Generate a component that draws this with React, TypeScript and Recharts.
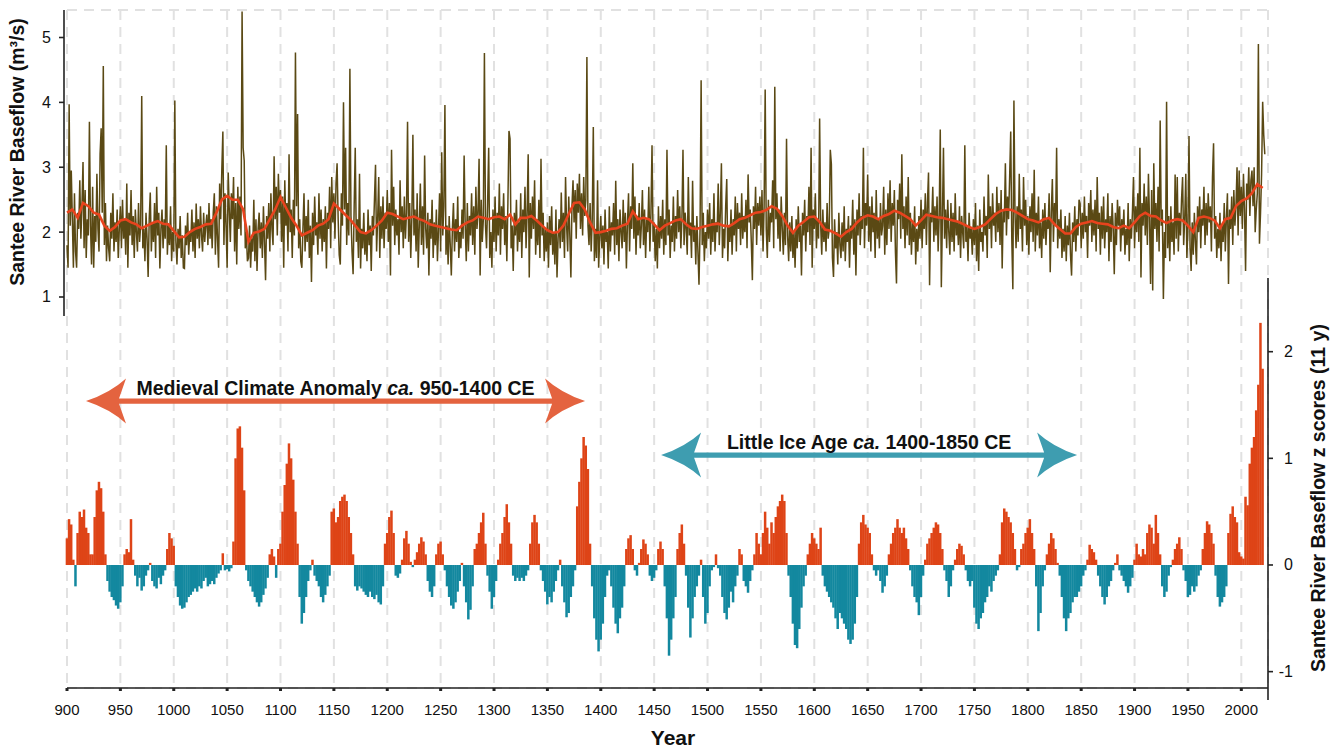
import React from "react";
import {
  ComposedChart,
  LineChart,
  Bar,
  Cell,
  Line,
  XAxis,
  YAxis,
  CartesianGrid,
  ReferenceArea,
} from "recharts";

// annual baseflow (m3/s), one array per century, first year = 900, 1000, ...
const flow900 = [
  1.8, 1.45, 3.97, 2.1, 2.95, 2.2, 1.45, 2.6, 1.7, 1.45,
  2.3, 2.05, 2.8, 1.9, 2.4, 3.08, 1.75, 2.65, 1.6, 2.2,
  1.95, 3.7, 2.1, 1.5, 2.7, 1.45, 2.25, 1.85, 2.9, 2.05,
  1.7, 3.2, 3.6, 2.3, 4.56, 1.8, 2.45, 1.55, 2.1, 1.75,
  1.55, 2.3, 1.9, 2.6, 1.7, 2.15, 1.85, 2.35, 1.6, 2.05,
  2.4, 1.75, 2.5, 1.9, 2.2, 1.65, 2.75, 1.45, 2.3, 1.95,
  2.65, 1.8, 2.25, 1.6, 2.35, 2.0, 1.7, 2.45, 1.85, 2.1,
  4.1, 1.75, 2.05, 1.55, 2.3, 1.9, 1.31, 2.2, 2.61, 1.7,
  2.15, 1.85, 2.45, 1.6, 2.7, 1.95, 2.3, 1.44, 2.05, 2.35,
  1.75, 2.2, 1.9, 3.34, 1.65, 2.1, 1.8, 2.4, 1.55, 2.0,
];
const flow1000 = [
  1.7, 4.03, 1.85, 1.5, 2.05, 1.75, 2.25, 1.6, 1.95, 1.45,
  1.44, 2.1, 1.8, 2.3, 1.65, 2.0, 1.85, 2.35, 1.7, 2.15,
  1.6, 2.44, 1.9, 2.2, 1.75, 2.4, 1.95, 1.7, 2.3, 1.85,
  2.1, 2.27, 1.8, 2.45, 1.9, 2.2, 1.75, 2.3, 2.6, 1.65,
  2.4, 1.9, 1.45, 2.75, 2.2, 2.95, 3.55, 1.8, 2.6, 2.1,
  1.45, 2.92, 2.35, 1.85, 2.6, 2.2, 2.85, 1.7, 2.45, 1.5,
  2.7, 2.05, 2.55, 1.95, 5.4, 3.3, 3.1, 1.75, 2.0, 1.55,
  1.6, 2.1, 1.45, 1.9, 1.7, 2.5, 1.55, 2.2, 1.4, 2.05,
  2.3, 1.75, 2.15, 1.6, 2.4, 1.85, 1.26, 2.25, 1.9, 2.45,
  1.7, 2.6, 2.05, 1.8, 3.17, 2.2, 2.7, 1.95, 2.9, 2.3,
];
const flow1100 = [
  2.65, 1.85, 2.55, 1.45, 2.8, 2.1, 2.45, 1.7, 3.2, 2.0,
  2.35, 1.6, 2.5, 1.95, 4.77, 2.4, 3.82, 1.75, 2.2, 1.55,
  1.45, 2.05, 2.6, 1.7, 2.25, 1.85, 2.5, 1.6, 2.1, 1.23,
  2.3, 1.8, 2.55, 1.95, 2.15, 1.65, 2.6, 1.9, 2.35, 1.7,
  2.2, 1.85, 2.4, 1.44, 2.3, 2.05, 2.7, 1.75, 2.85, 2.15,
  2.6, 1.9, 2.75, 3.06, 2.2, 1.65, 1.5, 2.6, 2.1, 4.0,
  2.35, 3.3, 1.8, 2.45, 1.95, 4.52, 2.25, 1.7, 1.35, 2.4,
  3.3, 1.85, 2.2, 1.6, 2.9, 1.44, 2.05, 1.75, 2.3, 1.65,
  2.0, 1.55, 2.35, 1.8, 2.1, 1.4, 2.25, 1.95, 2.5, 3.04,
  1.7, 2.2, 2.85, 1.6, 2.4, 1.9, 2.55, 1.75, 2.3, 2.05,
];
const flow1200 = [
  2.65, 1.85, 2.45, 1.33, 3.27, 2.1, 2.7, 1.8, 2.35, 1.95,
  2.2, 1.65, 2.8, 2.0, 2.4, 1.75, 2.55, 1.9, 2.3, 3.7,
  1.85, 2.45, 1.6, 2.2, 3.5, 1.95, 2.35, 1.7, 2.6, 1.45,
  2.1, 2.75, 1.8, 2.4, 1.65, 3.18, 2.05, 1.75, 2.3, 1.33,
  2.2, 1.9, 2.5, 1.6, 2.15, 1.8, 2.35, 1.55, 2.05, 2.6,
  1.7, 3.23, 1.95, 2.4, 3.96, 1.65, 2.1, 1.5, 2.25, 1.8,
  1.33, 2.05, 2.45, 1.7, 2.2, 1.85, 2.55, 1.6, 2.0, 1.75,
  2.35, 1.9, 3.18, 2.1, 1.55, 2.45, 1.7, 2.25, 1.95, 2.6,
  1.8, 2.4, 1.65, 2.7, 2.05, 2.3, 3.13, 1.33, 2.5, 1.85,
  2.2, 4.76, 2.1, 1.75, 2.45, 3.3, 1.6, 2.0, 1.45, 2.35,
];
const flow1300 = [
  1.85, 2.55, 1.7, 2.3, 1.95, 2.75, 1.65, 2.4, 2.05, 2.6,
  1.8, 2.25, 1.55, 2.45, 3.56, 3.44, 1.75, 2.1, 1.4, 2.3,
  1.95, 2.5, 1.7, 2.15, 1.85, 2.6, 1.6, 2.35, 2.0, 2.7,
  1.75, 2.3, 3.2, 1.3, 2.45, 1.9, 2.55, 2.05, 2.8, 1.65,
  2.2, 1.8, 2.5, 1.6, 3.13, 1.95, 2.3, 1.55, 2.05, 1.7,
  2.15, 1.45, 2.25, 1.8, 2.4, 1.65, 2.0, 1.5, 2.35, 1.3,
  1.9, 2.2, 1.75, 2.61, 1.85, 2.3, 1.6, 2.85, 2.1, 1.7,
  2.55, 1.95, 1.3, 2.4, 2.8, 2.15, 2.65, 1.9, 2.75, 2.3,
  2.9, 2.05, 2.6, 1.95, 2.85, 2.25, 2.5, 4.7, 2.1, 1.8,
  2.45, 1.7, 2.2, 3.62, 1.55, 2.05, 1.6, 2.8, 1.45, 1.9,
];
const flow1400 = [
  2.25, 1.75, 2.1, 1.5, 2.35, 1.85, 2.0, 1.44, 2.4, 1.7,
  2.15, 1.95, 2.45, 1.65, 2.79, 1.8, 2.2, 1.55, 2.35, 2.0,
  1.75, 2.5, 1.85, 2.3, 1.44, 2.15, 2.6, 1.7, 2.4, 2.05,
  3.06, 1.9, 2.55, 1.65, 2.25, 1.95, 2.45, 1.75, 2.1, 2.65,
  1.8, 2.35, 1.6, 2.2, 2.0, 2.7, 1.7, 2.3, 3.34, 1.85,
  2.15, 1.55, 2.05, 1.44, 2.4, 1.75, 2.25, 1.9, 2.5, 1.65,
  2.2, 1.8, 3.27, 1.95, 2.35, 1.6, 2.1, 1.85, 2.55, 1.7,
  2.25, 1.9, 2.65, 2.0, 2.4, 1.75, 2.2, 3.27, 1.8, 2.3,
  2.05, 1.65, 2.85, 1.95, 2.15, 1.6, 2.79, 1.85, 2.1, 1.5,
  2.25, 1.7, 1.19, 2.05, 4.34, 1.8, 2.3, 1.55, 2.0, 1.75,
];
const flow1500 = [
  2.35, 1.9, 2.45, 1.65, 2.2, 1.85, 2.6, 1.7, 2.15, 2.0,
  2.75, 1.8, 2.3, 3.06, 1.6, 2.05, 1.75, 2.4, 2.82, 1.55,
  2.1, 1.85, 2.35, 1.65, 2.2, 1.95, 2.55, 1.7, 2.45, 2.05,
  2.3, 1.8, 2.6, 1.9, 2.25, 2.0, 2.5, 1.75, 2.89, 2.15,
  2.35, 1.85, 1.26, 2.4, 2.05, 2.7, 1.8, 2.45, 2.1, 2.55,
  1.95, 2.65, 1.7, 2.4, 4.2, 2.05, 1.6, 2.5, 1.85, 2.3,
  2.15, 2.8, 1.75, 4.24, 2.2, 2.6, 1.9, 2.35, 1.7, 2.55,
  2.05, 1.65, 2.3, 1.8, 3.44, 1.95, 1.55, 2.15, 1.7, 2.25,
  1.6, 2.0, 1.45, 2.2, 1.75, 2.4, 1.85, 2.1, 1.33, 2.3,
  1.95, 2.5, 1.7, 2.25, 2.0, 2.7, 1.8, 3.3, 1.45, 2.35,
];
const flow1600 = [
  2.05, 2.6, 1.75, 2.2, 1.9, 3.75, 2.1, 1.65, 2.35, 1.85,
  2.15, 1.7, 2.45, 1.9, 2.05, 3.27, 3.05, 1.6, 1.31, 2.2,
  1.75, 2.0, 1.5, 2.3, 1.8, 1.6, 2.15, 1.7, 2.4, 1.55,
  2.05, 1.85, 2.25, 1.45, 2.1, 1.9, 2.5, 1.65, 2.2, 1.33,
  2.35, 1.95, 2.6, 1.8, 2.25, 2.05, 3.3, 1.75, 2.45, 2.1,
  2.89, 1.85, 2.4, 1.7, 2.55, 2.0, 2.3, 1.6, 2.65, 1.9,
  2.2, 1.75, 2.45, 1.95, 2.1, 2.7, 1.65, 2.35, 1.8, 2.6,
  2.05, 2.8, 1.85, 2.45, 2.1, 2.65, 1.7, 1.21, 2.5, 2.2,
  2.75, 1.9, 3.2, 2.05, 2.4, 1.75, 2.55, 1.95, 2.85, 1.8,
  2.3, 1.65, 2.15, 1.85, 2.4, 1.5, 2.05, 1.7, 2.25, 1.9,
];
const flow1700 = [
  2.5, 1.75, 2.35, 2.05, 2.6, 1.8, 2.45, 2.92, 1.18, 2.3,
  2.15, 2.7, 1.85, 2.4, 1.95, 2.55, 1.7, 2.25, 3.58, 1.15,
  2.2, 3.3, 1.9, 2.35, 1.75, 2.5, 2.0, 1.65, 2.45, 1.85,
  2.3, 1.7, 2.6, 1.95, 2.15, 1.8, 2.4, 1.6, 2.25, 2.0,
  1.75, 3.34, 1.85, 2.1, 1.55, 2.3, 1.9, 2.05, 1.65, 2.2,
  1.8, 2.45, 1.55, 2.1, 1.4, 2.35, 1.85, 2.0, 1.7, 2.55,
  1.95, 2.25, 1.6, 2.89, 2.05, 2.4, 1.75, 2.6, 2.1, 2.3,
  1.85, 2.7, 2.0, 2.45, 1.8, 2.65, 1.44, 2.35, 2.15, 3.06,
  1.95, 2.55, 2.2, 2.85, 3.55, 1.9, 1.12, 4.03, 2.3, 1.75,
  2.4, 1.85, 2.9, 2.05, 2.35, 1.7, 2.85, 2.1, 2.5, 1.8,
];
const flow1800 = [
  2.25, 1.65, 2.4, 2.0, 2.6, 1.85, 2.96, 1.7, 2.3, 1.95,
  2.55, 1.75, 2.15, 1.6, 2.35, 1.9, 2.45, 1.8, 2.2, 2.05,
  2.6, 1.38, 2.3, 2.82, 1.85, 2.45, 2.1, 3.3, 1.75, 2.2,
  1.9, 2.35, 1.6, 2.05, 1.7, 2.25, 1.55, 2.1, 1.8, 2.3,
  1.65, 1.33, 2.15, 1.85, 2.4, 1.7, 2.2, 1.95, 2.5, 2.44,
  1.75, 2.3, 1.9, 2.55, 2.0, 2.25, 1.6, 2.45, 2.1, 2.65,
  1.85, 2.35, 1.95, 2.5, 1.7, 2.85, 2.05, 2.3, 1.65, 2.4,
  1.9, 2.55, 1.75, 2.2, 2.0, 2.6, 1.55, 2.25, 1.85, 2.45,
  2.05, 1.35, 2.3, 1.8, 2.5, 2.1, 2.4, 1.7, 2.2, 1.95,
  2.35, 1.65, 2.05, 1.8, 2.45, 1.55, 2.2, 1.9, 2.3, 2.85,
];
const flow1900 = [
  1.75, 2.4, 2.0, 2.6, 1.85, 3.3, 1.3, 2.45, 2.1, 2.75,
  1.95, 2.55, 1.8, 2.9, 2.2, 1.2, 2.65, 1.1, 3.06, 2.05,
  2.45, 1.85, 2.7, 1.7, 3.72, 2.1, 2.35, 0.97, 2.0, 1.6,
  4.01, 1.75, 2.25, 1.55, 2.4, 1.85, 2.15, 1.65, 2.89, 1.9,
  2.85, 1.7, 2.3, 1.95, 2.5, 2.85, 1.8, 2.2, 2.9, 1.6,
  2.05, 3.48, 1.75, 1.4, 2.15, 1.65, 2.3, 1.85, 1.5, 2.4,
  2.0, 2.55, 1.75, 2.35, 2.1, 2.7, 1.8, 2.45, 1.95, 2.6,
  2.15, 2.4, 1.7, 2.85, 3.37, 1.9, 2.25, 1.6, 2.05, 1.75,
  2.3, 1.55, 2.1, 1.85, 2.45, 1.7, 2.2, 2.6, 1.2, 2.35,
  2.05, 2.55, 1.8, 2.65, 2.1, 2.4, 3.0, 1.95, 2.95, 2.25,
];
const flow2000 = [
  2.7, 2.05, 2.9, 2.35, 1.4, 2.75, 2.5, 3.0, 2.25, 2.8,
  2.95, 2.4, 3.0, 2.0, 2.35, 2.6, 4.9, 1.82, 2.3, 2.9,
  4.01, 3.5, 3.2,
];

// 11-year smoothed baseflow, every 5 years from 900
const smooth900 = [2.3, 2.35, 2.22, 2.45, 2.4, 2.3, 2.27, 2.1, 2.02, 2.08, 2.18, 2.2, 2.15, 2.12, 2.06, 2.1, 2.14, 2.17, 2.13, 2.12];
const smooth1000 = [2.02, 1.92, 1.93, 2.0, 2.05, 2.08, 2.12, 2.13, 2.3, 2.5, 2.56, 2.5, 2.5, 2.35, 1.85, 1.99, 2.01, 2.05, 2.2, 2.35];
const smooth1100 = [2.54, 2.38, 2.22, 2.1, 1.95, 1.99, 2.03, 2.1, 2.13, 2.2, 2.44, 2.36, 2.28, 2.2, 2.1, 2.0, 1.98, 2.03, 2.1, 2.18];
const smooth1200 = [2.3, 2.28, 2.24, 2.2, 2.22, 2.24, 2.2, 2.17, 2.12, 2.1, 2.08, 2.06, 2.04, 2.03, 2.1, 2.15, 2.18, 2.24, 2.22, 2.2];
const smooth1300 = [2.23, 2.24, 2.2, 2.27, 2.12, 2.22, 2.22, 2.25, 2.18, 2.1, 2.03, 1.99, 2.0, 2.1, 2.28, 2.45, 2.46, 2.35, 2.15, 1.99];
const smooth1400 = [2.0, 2.02, 2.05, 2.06, 2.1, 2.13, 2.32, 2.2, 2.22, 2.2, 2.12, 2.03, 2.1, 2.14, 2.18, 2.2, 2.12, 2.06, 2.05, 2.08];
const smooth1500 = [2.1, 2.12, 2.13, 2.1, 2.09, 2.14, 2.2, 2.22, 2.26, 2.3, 2.31, 2.34, 2.4, 2.36, 2.25, 2.1, 1.99, 2.1, 2.16, 2.23];
const smooth1600 = [2.24, 2.16, 2.04, 2.02, 1.98, 1.93, 2.0, 2.05, 2.15, 2.22, 2.26, 2.24, 2.2, 2.25, 2.28, 2.33, 2.3, 2.25, 2.2, 2.1];
const smooth1700 = [2.18, 2.27, 2.25, 2.23, 2.22, 2.2, 2.18, 2.16, 2.12, 2.08, 2.05, 2.08, 2.12, 2.2, 2.28, 2.33, 2.35, 2.34, 2.3, 2.25];
const smooth1800 = [2.2, 2.18, 2.15, 2.2, 2.22, 2.12, 2.05, 1.98, 1.98, 2.08, 2.13, 2.15, 2.17, 2.14, 2.13, 2.12, 2.08, 2.06, 2.1, 2.06];
const smooth1900 = [2.15, 2.25, 2.3, 2.25, 2.24, 2.18, 2.14, 2.18, 2.2, 2.18, 2.1, 2.0, 2.22, 2.24, 2.22, 2.18, 2.06, 2.2, 2.22, 2.4];
const smooth2000 = [2.48, 2.52, 2.6, 2.74, 2.68];

// z scores of the 11-year baseflow, every 2 years from 900
const z900 = [
  0.25, 0.43, 0.38, 0.05, -0.2, 0.3, 0.5, 0.45, 0.52, 0.35,
  0.3, 0.1, 0.1, 0.45, 0.7, 0.78, 0.72, 0.5, 0.1, -0.15,
  -0.25, -0.3, -0.33, -0.38, -0.41, -0.35, -0.2, 0.1, 0.15, 0.12,
  0.43, 0.05, -0.1, -0.2, -0.12, -0.24, -0.2, -0.1, -0.05, 0.02,
  -0.15, -0.2, -0.22, -0.12, -0.18, -0.1, -0.05, 0.15, 0.3, 0.25,
];
const z1000 = [
  0.18, -0.2, -0.3, -0.38, -0.41, -0.4, -0.35, -0.3, -0.28, -0.25,
  -0.22, -0.25, -0.2, -0.22, -0.15, -0.12, -0.2, -0.18, -0.15, -0.18,
  -0.12, -0.08, -0.05, 0.11, -0.05, -0.04, -0.06, -0.03, 0.22, 1.0,
  1.28, 1.3, 1.1, 0.7, -0.05, -0.15, -0.2, -0.25, -0.3, -0.35,
  -0.39, -0.35, -0.28, -0.22, -0.12, 0.1, 0.15, 0.08, -0.12, 0.15,
];
const z1100 = [
  0.2, 0.5, 0.75, 0.95, 1.14, 1.0, 0.8, 0.5, 0.2, -0.3,
  -0.55, -0.45, -0.3, -0.15, -0.05, 0.05, -0.1, -0.15, -0.2, -0.3,
  -0.35, -0.28, -0.2, -0.1, 0.5, 0.53, 0.4, 0.45, 0.6, 0.64,
  0.66, 0.6, 0.45, 0.3, 0.1, -0.2, -0.24, -0.2, -0.22, -0.25,
  -0.28, -0.3, -0.25, -0.3, -0.32, -0.28, -0.35, -0.37, -0.2, 0.2,
];
const z1200 = [
  0.3, 0.45, 0.51, 0.3, -0.1, -0.12, -0.08, 0.05, 0.25, 0.32,
  0.2, 0.03, -0.02, 0.05, 0.12, 0.2, 0.26, 0.22, 0.1, -0.15,
  -0.25, -0.3, -0.2, 0.1, 0.2, 0.22, 0.1, -0.05, -0.2, -0.3,
  -0.38, -0.41, -0.35, -0.25, -0.15, 0.02, -0.2, -0.35, -0.51, -0.42,
  -0.2, 0.15, 0.2, 0.3, 0.4, 0.49, 0.2, -0.1, -0.25, -0.41,
];
const z1300 = [
  -0.3, -0.15, 0.05, 0.2, 0.3, 0.45, 0.57, 0.4, 0.2, -0.1,
  -0.15, -0.12, -0.15, -0.12, -0.15, -0.1, -0.05, 0.2, 0.4, 0.47,
  0.4, 0.2, -0.05, -0.15, -0.25, -0.37, -0.3, -0.35, -0.25, -0.15,
  -0.05, 0.05, -0.2, -0.35, -0.49, -0.45, -0.3, -0.2, -0.05, 0.55,
  0.78, 1.0, 1.2, 1.12, 0.9, 0.2, -0.2, -0.5, -0.7, -0.81,
];
const z1400 = [
  -0.7, -0.55, -0.3, -0.1, -0.05, -0.2, -0.4, -0.55, -0.64, -0.5,
  -0.4, -0.2, 0.15, 0.25, 0.28, 0.15, -0.05, -0.1, 0.02, 0.15,
  0.24, 0.2, 0.1, -0.1, -0.15, -0.12, -0.05, 0.15, 0.22, 0.15,
  -0.2, -0.5, -0.85, -0.7, -0.5, -0.3, 0.15, 0.3, 0.38, 0.2,
  -0.1, -0.4, -0.68, -0.5, -0.3, -0.2, -0.1, 0.05, -0.3, -0.55,
];
const z1500 = [
  -0.45, -0.2, -0.05, -0.02, 0.1, -0.03, -0.1, -0.3, -0.45, -0.51,
  -0.4, -0.25, -0.35, -0.2, -0.1, 0.15, 0.1, -0.15, -0.2, -0.26,
  -0.15, -0.05, 0.1, 0.3, 0.2, 0.1, 0.3, 0.5, 0.35, 0.2,
  0.4, 0.3, 0.45, 0.55, 0.6, 0.66, 0.6, 0.3, -0.1, -0.3,
  -0.55, -0.75, -0.78, -0.6, -0.4, -0.2, -0.1, 0.1, 0.2, 0.3,
];
const z1600 = [
  0.25, 0.2, 0.15, 0.35, -0.1, -0.2, -0.25, -0.3, -0.35, -0.4,
  -0.5, -0.6, -0.45, -0.5, -0.55, -0.6, -0.7, -0.74, -0.7, -0.55,
  -0.3, 0.2, 0.4, 0.47, 0.38, 0.35, 0.3, 0.1, -0.05, -0.1,
  -0.05, -0.15, -0.26, -0.2, -0.1, 0.1, 0.2, 0.3, 0.35, 0.43,
  0.35, 0.3, 0.35, 0.25, 0.15, -0.05, -0.2, -0.3, -0.35, -0.47,
];
const z1700 = [
  -0.3, -0.1, 0.05, 0.2, 0.25, 0.3, 0.35, 0.4, 0.38, 0.3,
  0.15, -0.05, -0.15, -0.3, -0.2, -0.05, 0.05, 0.15, 0.2, 0.18,
  0.1, -0.05, -0.15, -0.2, -0.15, -0.4, -0.55, -0.6, -0.5, -0.45,
  -0.35, -0.3, -0.2, -0.25, -0.15, -0.1, -0.05, 0.1, 0.4, 0.53,
  0.5, 0.45, 0.4, 0.3, 0.15, -0.05, -0.02, 0.15, 0.2, 0.3,
];
const z1800 = [
  0.35, 0.43, 0.3, 0.15, -0.2, -0.62, -0.45, -0.2, -0.05, 0.1,
  0.2, 0.3, 0.25, 0.15, 0.02, -0.1, -0.3, -0.5, -0.62, -0.5,
  -0.45, -0.35, -0.3, -0.3, -0.25, -0.2, -0.1, -0.05, 0.05, 0.19,
  0.15, 0.12, 0.05, -0.1, -0.2, -0.3, -0.37, -0.3, -0.2, -0.15,
  -0.05, 0.02, 0.1, -0.05, -0.1, -0.15, -0.2, -0.26, -0.2, -0.12,
];
const z1900 = [
  0.05, 0.2, 0.1, 0.08, 0.15, 0.1, 0.3, 0.38, 0.35, 0.2,
  0.47, 0.3, 0.1, -0.2, -0.3, -0.25, -0.1, -0.02, 0.05, 0.15,
  0.2, 0.26, 0.15, -0.05, -0.15, -0.3, -0.28, -0.2, -0.25, -0.2,
  -0.1, -0.05, 0.15, 0.3, 0.41, 0.38, 0.3, 0.2, -0.1, -0.3,
  -0.39, -0.35, -0.3, -0.2, 0.3, 0.48, 0.55, 0.45, 0.4, 0.12,
];
const z2000 = [0.08, 0.06, 0.64, 0.56, 0.95, 1.1, 1.2, 1.45, 1.69, 2.27, 1.84];

// axis ticks
const yearTicks = [900, 950, 1000, 1050, 1100, 1150, 1200, 1250, 1300, 1350, 1400, 1450, 1500, 1550, 1600, 1650, 1700, 1750, 1800, 1850, 1900, 1950, 2000];
const flowTicks = [1, 2, 3, 4, 5];
const zTicks = [-1, 0, 1, 2];

// period annotations
const periods = [
  { from: 917.8, to: 1385.3, zLow: 1.326, zHigh: 1.748, color: "#e4633f", before: "Medieval Climate Anomaly ", after: " 950-1400 CE" },
  { from: 1456.5, to: 1846.2, zLow: 0.82, zHigh: 1.242, color: "#3e9db0", before: "Little Ice Age ", after: " 1400-1850 CE" },
];

const FONT = "'Liberation Sans', Arial, Helvetica, sans-serif";
const W = 1338;
const H = 749;
const RED = "#de4417";
const TEAL = "#13889f";

const flowAll = [
  ...flow900, ...flow1000, ...flow1100, ...flow1200, ...flow1300, ...flow1400,
  ...flow1500, ...flow1600, ...flow1700, ...flow1800, ...flow1900, ...flow2000,
];
const smoothAll = [
  ...smooth900, ...smooth1000, ...smooth1100, ...smooth1200, ...smooth1300, ...smooth1400,
  ...smooth1500, ...smooth1600, ...smooth1700, ...smooth1800, ...smooth1900, ...smooth2000,
];
const zAll = [
  ...z900, ...z1000, ...z1100, ...z1200, ...z1300, ...z1400,
  ...z1500, ...z1600, ...z1700, ...z1800, ...z1900, ...z2000,
];

const flowRows = flowAll.map((v, i) => {
  const year = 900 + i;
  const k = i / 5;
  return {
    year,
    flow: v,
    smooth: i % 5 === 0 && k < smoothAll.length ? smoothAll[k] : undefined,
  };
});
const zRows = zAll.map((v, i) => ({ year: 900 + i * 2, z: v }));

const arrowShape = (color: string, before: string, after: string) => (p: any) => {
  const { x, y, width, height } = p;
  const cy = y + height / 2;
  const hh = height / 2;
  const L = 40;
  const n = 7;
  const t = 2.6;
  const xl = x;
  const xr = x + width;
  const d = [
    `M${xl},${cy}`,
    `Q${xl + L * 0.6},${cy - hh * 0.35} ${xl + L},${cy - hh}`,
    `L${xl + L - n},${cy - t}`,
    `L${xr - L + n},${cy - t}`,
    `L${xr - L},${cy - hh}`,
    `Q${xr - L * 0.6},${cy - hh * 0.35} ${xr},${cy}`,
    `Q${xr - L * 0.6},${cy + hh * 0.35} ${xr - L},${cy + hh}`,
    `L${xr - L + n},${cy + t}`,
    `L${xl + L - n},${cy + t}`,
    `L${xl + L},${cy + hh}`,
    `Q${xl + L * 0.6},${cy + hh * 0.35} ${xl},${cy}`,
    "Z",
  ].join(" ");
  return (
    <g>
      <path d={d} fill={color} />
      <text
        x={(xl + xr) / 2}
        y={cy - 6}
        textAnchor="middle"
        fontFamily={FONT}
        fontWeight="bold"
        fontSize={19.5}
        fill="#111"
      >
        {before}
        <tspan fontStyle="italic">ca.</tspan>
        {after}
      </text>
    </g>
  );
};

// bars two years wide, centred on their year
const ZBar = (p: any) => {
  const { x, y, width, height, fill } = p;
  const top = Math.min(y, y + height);
  const h = Math.abs(height);
  const cx = x + width / 2;
  return <rect x={cx - 1.25} y={top} width={2.5} height={h} fill={fill} />;
};

const LeftTick = (p: any) => {
  const { x, y, payload } = p;
  return (
    <g>
      <line x1={x - 5} x2={x} y1={y} y2={y} stroke="#222" strokeWidth={1.6} />
      <text x={x - 13} y={y} textAnchor="end" dominantBaseline="central" fontFamily={FONT} fontSize={16} fill="#111">
        {payload.value}
      </text>
    </g>
  );
};

const RightTick = (p: any) => {
  const { x, y, payload } = p;
  return (
    <g>
      <line x1={x - 10} x2={x - 5} y1={y} y2={y} stroke="#222" strokeWidth={1.6} />
      <text x={x + 15} y={y} textAnchor="end" dominantBaseline="central" fontFamily={FONT} fontSize={16} fill="#111">
        {payload.value}
      </text>
    </g>
  );
};

const layer: React.CSSProperties = { position: "absolute", left: 0, top: 0 };

export default function App() {
  return (
    <div style={{ position: "absolute", left: 0, top: 0, width: W, height: H, background: "#fff", fontFamily: FONT }}>
      {/* bars, grid, x axis, period arrows */}
      <div style={layer}>
        <ComposedChart width={W} height={H} data={zRows} margin={{ top: 10, right: 70, bottom: 0, left: 67 }}>
          <CartesianGrid yAxisId="f" stroke="#e1e1e1" strokeWidth={2} strokeDasharray="10 7" />
          <XAxis
            dataKey="year"
            type="number"
            domain={[900, 2025]}
            ticks={yearTicks}
            height={61}
            tickSize={3}
            tickMargin={13}
            axisLine={{ stroke: "#222", strokeWidth: 1.6 }}
            tickLine={{ stroke: "#222", strokeWidth: 3 }}
            tick={{ fontSize: 15, fill: "#111", fontFamily: FONT }}
          />
          <YAxis yAxisId="z" hide domain={[-1.153, 5.203]} />
          <YAxis yAxisId="f" hide domain={[-5.027, 5.424]} ticks={flowTicks} />
          <Bar yAxisId="z" dataKey="z" barSize={2} shape={<ZBar />} isAnimationActive={false}>
            {zRows.map((r) => (
              <Cell key={r.year} fill={r.z >= 0 ? RED : TEAL} />
            ))}
          </Bar>
          {periods.map((pr) => (
            <ReferenceArea
              key={pr.from}
              yAxisId="z"
              x1={pr.from}
              x2={pr.to}
              y1={pr.zLow}
              y2={pr.zHigh}
              shape={arrowShape(pr.color, pr.before, pr.after)}
            />
          ))}
        </ComposedChart>
      </div>

      {/* baseflow lines */}
      <div style={layer}>
        <LineChart width={W} height={H} data={flowRows} margin={{ top: 10, right: 70, bottom: 61, left: 67 }}>
          <XAxis dataKey="year" type="number" domain={[900, 2025]} hide />
          <YAxis hide domain={[-5.027, 5.424]} />
          <Line dataKey="flow" stroke="#5a4914" strokeWidth={1.5} dot={false} isAnimationActive={false} />
          <Line dataKey="smooth" stroke="#e8431d" strokeWidth={2.6} dot={false} connectNulls isAnimationActive={false} />
        </LineChart>
      </div>

      {/* left axis of the baseflow panel */}
      <div style={layer}>
        <LineChart width={W} height={H} data={flowRows} margin={{ top: 10, right: 70, bottom: 433, left: 24 }}>
          <XAxis dataKey="year" type="number" domain={[900, 2025]} hide />
          <YAxis
            type="number"
            domain={[0.707, 5.424]}
            ticks={flowTicks}
            interval={0}
            allowDataOverflow
            width={40}
            tickSize={0}
            tickMargin={0}
            axisLine={{ stroke: "#222", strokeWidth: 1.6 }}
            tickLine={false}
            tick={<LeftTick />}
          />
          <Line dataKey="flow" stroke="none" dot={false} isAnimationActive={false} />
        </LineChart>
      </div>

      {/* right axis of the z score panel */}
      <div style={layer}>
        <LineChart width={W} height={H} data={zRows} margin={{ top: 278, right: 20, bottom: 49, left: 67 }}>
          <XAxis dataKey="year" type="number" domain={[900, 2025]} hide />
          <YAxis
            orientation="right"
            type="number"
            domain={[-1.266, 2.691]}
            ticks={zTicks}
            interval={0}
            allowDataOverflow
            width={50}
            tickSize={0}
            tickMargin={10}
            axisLine={{ stroke: "#222", strokeWidth: 1.6 }}
            tickLine={false}
            tick={<RightTick />}
          />
          <Line dataKey="z" stroke="none" dot={false} isAnimationActive={false} />
        </LineChart>
      </div>

      {/* axis titles */}
      <svg width={W} height={H} style={{ ...layer, pointerEvents: "none" }}>
        <text
          transform="translate(24,152) rotate(-90)"
          textAnchor="middle"
          fontFamily={FONT}
          fontWeight="bold"
          fontSize={19.5}
          fill="#111"
        >
          Santee River Baseflow (m³/s)
        </text>
        <text
          transform="translate(1325,498) rotate(-90)"
          textAnchor="middle"
          fontFamily={FONT}
          fontWeight="bold"
          fontSize={19.5}
          fill="#111"
        >
          Santee River Baseflow z scores (11 y)
        </text>
        <text x={673} y={745} textAnchor="middle" fontFamily={FONT} fontWeight="bold" fontSize={21} fill="#111">
          Year
        </text>
      </svg>
    </div>
  );
}
